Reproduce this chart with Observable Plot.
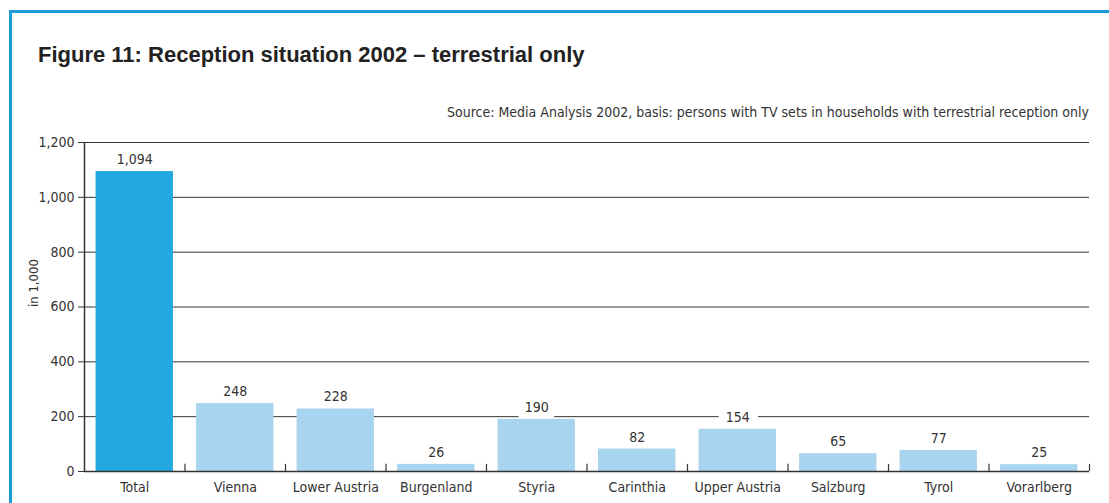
<!DOCTYPE html>
<html>
<head>
<meta charset="utf-8">
<script src="https://cdn.jsdelivr.net/npm/d3@7"></script>
<script src="https://cdn.jsdelivr.net/npm/@observablehq/plot@0.6"></script>
<style>
  html, body { margin: 0; padding: 0; background: #fff; }
  #wrap { position: relative; width: 1109px; height: 503px; overflow: hidden; }
  #border { position: absolute; left: 9px; top: 10px; width: 1200px; height: 600px;
            border-left: 3px solid #1f9ad9; border-top: 3px solid #1f9ad9; box-sizing: border-box; }
  #title { position: absolute; left: 38px; top: 44px; font: bold 22px "Liberation Sans", Arial, sans-serif;
           line-height: 1; color: #222; white-space: nowrap; z-index: 2; }
  #source { position: absolute; right: 20px; top: 105px; font: 14px "Liberation Sans Narrow", "DejaVu Sans Condensed", Roboto, sans-serif;
            line-height: 1; color: #333; white-space: nowrap; z-index: 2; }
  #chart { position: absolute; left: 0; top: 0; }
</style>
</head>
<body>
<div id="wrap">
  <div id="border"></div>
  <div id="title">Figure 11: Reception situation 2002 – terrestrial only</div>
  <div id="source">Source: Media Analysis 2002, basis: persons with TV sets in households with terrestrial reception only</div>
  <div id="chart"></div>
</div>
<script>
const categories = ["Total", "Vienna", "Lower Austria", "Burgenland", "Styria", "Carinthia", "Upper Austria", "Salzburg", "Tyrol", "Vorarlberg"];
const values = [1094, 248, 228, 26, 190, 82, 154, 65, 77, 25];
const yTicks = [0, 200, 400, 600, 800, 1000, 1200];
const yLabel = "in 1,000";

const data = categories.map((c, i) => ({region: c, value: values[i], total: i === 0}));
const fontFam = '"Liberation Sans Narrow", "DejaVu Sans Condensed", Roboto, sans-serif';
const fmt = d3.format(",");

const W = 1109, H = 503;
const mL = 84, mR = 20;
const step = (W - mL - mR) / categories.length;

const chart = Plot.plot({
  width: W,
  height: H,
  marginLeft: mL,
  marginRight: mR,
  marginTop: 142,
  marginBottom: 32,
  style: {fontFamily: fontFam, fontSize: "14px", color: "#333", background: "transparent"},
  x: {domain: categories, paddingInner: 0.23, paddingOuter: 0.115, round: false, label: null},
  y: {domain: [0, 1200], ticks: yTicks, label: null},
  marks: [
    Plot.ruleY(yTicks.filter(d => d > 0), {stroke: "#333", strokeWidth: 1}),
    // white gap behind value labels (drawn under the bars)
    Plot.text(data, {x: "region", y: "value", text: d => fmt(d.value), dy: -12,
      fontSize: 14, fill: "white", stroke: "white", strokeWidth: 18, strokeLinejoin: "round"}),
    Plot.barY(data, {x: "region", y: "value", fill: d => d.total ? "#22a9e1" : "#a9d4ef"}),
    Plot.ruleY([0], {stroke: "#333", strokeWidth: 1.5}),
    Plot.ruleX(categories.slice(0, 1), {x: d => d, dx: -step / 2, y1: 0, y2: 1200, stroke: "#333", strokeWidth: 1.5}),
    Plot.ruleX(categories, {x: d => d, dx: step / 2, y1: 0, y2: 26, stroke: "#333", strokeWidth: 1.2}),
    Plot.text(data, {x: "region", y: "value", text: d => fmt(d.value), dy: -12, fontSize: 14, fill: "#333"}),
    Plot.axisY({ticks: yTicks, tickFormat: fmt, tickSize: 6, tickPadding: 4, fontSize: 14, label: null}),
    Plot.axisX({tickSize: 0, tickPadding: 11, fontSize: 14, label: null}),
    Plot.text([yLabel], {frameAnchor: "left", dx: -51, rotate: -90, fontSize: 13, fill: "#333"})
  ]
});
document.getElementById("chart").appendChild(chart);
</script>
</body>
</html>
